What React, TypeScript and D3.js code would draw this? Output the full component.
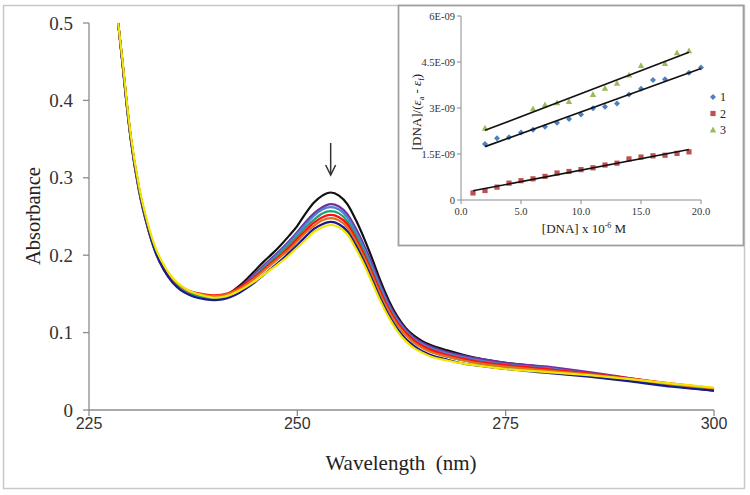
import React from "react";
import * as d3 from "d3";

const wavelengths = [228.5,229,229.5,230,231,232,233,234,235,236,237,238,239,240,241,242,243,244,245,246,247,248,249,250,251,252,253,254,255,256,257,258,259,260,261,262,263,264,265,266,268,270,272,275,280,285,290,295,300];

const black = [0.500,0.449,0.396,0.350,0.283,0.237,0.203,0.181,0.167,0.158,0.152,0.148,0.146,0.145,0.147,0.152,0.160,0.170,0.181,0.192,0.202,0.213,0.225,0.238,0.254,0.268,0.277,0.281,0.277,0.266,0.246,0.222,0.195,0.166,0.141,0.121,0.106,0.096,0.089,0.084,0.077,0.071,0.066,0.061,0.055,0.047,0.039,0.031,0.025];
const purple = [0.500,0.450,0.398,0.352,0.285,0.239,0.205,0.183,0.168,0.159,0.153,0.149,0.147,0.146,0.147,0.151,0.158,0.167,0.177,0.187,0.197,0.207,0.218,0.230,0.243,0.254,0.262,0.266,0.263,0.253,0.235,0.213,0.188,0.161,0.137,0.118,0.104,0.094,0.087,0.082,0.075,0.070,0.066,0.061,0.056,0.049,0.041,0.033,0.026];
const blue = [0.500,0.450,0.397,0.351,0.284,0.238,0.203,0.181,0.166,0.156,0.150,0.146,0.144,0.143,0.145,0.149,0.156,0.165,0.175,0.185,0.195,0.205,0.216,0.228,0.240,0.251,0.259,0.262,0.259,0.249,0.231,0.209,0.184,0.158,0.134,0.116,0.102,0.092,0.085,0.080,0.073,0.068,0.064,0.059,0.054,0.047,0.040,0.032,0.026];
const green = [0.500,0.451,0.398,0.352,0.285,0.239,0.205,0.183,0.168,0.158,0.152,0.148,0.146,0.145,0.146,0.150,0.156,0.164,0.173,0.183,0.193,0.203,0.213,0.224,0.236,0.246,0.254,0.257,0.254,0.244,0.226,0.204,0.179,0.153,0.130,0.112,0.098,0.088,0.081,0.076,0.069,0.064,0.060,0.056,0.051,0.046,0.039,0.032,0.027];
const red = [0.500,0.452,0.399,0.353,0.286,0.240,0.206,0.185,0.170,0.160,0.154,0.151,0.149,0.148,0.149,0.152,0.158,0.165,0.173,0.182,0.191,0.200,0.210,0.221,0.232,0.242,0.249,0.252,0.249,0.240,0.222,0.201,0.177,0.152,0.130,0.113,0.100,0.090,0.083,0.078,0.071,0.066,0.062,0.058,0.053,0.047,0.041,0.034,0.028];
const orange = [0.500,0.452,0.400,0.354,0.287,0.241,0.207,0.185,0.170,0.160,0.153,0.150,0.148,0.147,0.148,0.151,0.156,0.163,0.171,0.180,0.189,0.198,0.207,0.218,0.229,0.238,0.245,0.248,0.245,0.236,0.218,0.197,0.173,0.148,0.127,0.110,0.097,0.087,0.080,0.075,0.069,0.064,0.060,0.056,0.051,0.046,0.040,0.033,0.028];
const navy = [0.500,0.451,0.399,0.353,0.286,0.239,0.204,0.181,0.165,0.155,0.149,0.145,0.143,0.142,0.143,0.146,0.151,0.158,0.166,0.175,0.184,0.193,0.203,0.213,0.224,0.234,0.240,0.243,0.240,0.231,0.213,0.192,0.168,0.143,0.122,0.105,0.092,0.083,0.076,0.071,0.065,0.060,0.057,0.053,0.048,0.043,0.037,0.030,0.025];
const yellow = [0.500,0.454,0.402,0.356,0.289,0.243,0.209,0.187,0.171,0.161,0.154,0.150,0.147,0.145,0.146,0.149,0.154,0.160,0.167,0.175,0.183,0.191,0.200,0.210,0.220,0.230,0.236,0.239,0.236,0.227,0.209,0.188,0.164,0.140,0.119,0.102,0.089,0.080,0.074,0.069,0.064,0.060,0.057,0.053,0.049,0.045,0.040,0.034,0.029];

const spectra = [black, purple, blue, green, red, orange, navy, yellow];
const spectraColors = ["#111111", "#7030A0", "#4F7FD0", "#1FA077", "#FF1010", "#E07020", "#1A1A8C", "#F2E600"];

const mainXTicks = [225, 250, 275, 300];
const mainYTicks = [0, 0.1, 0.2, 0.3, 0.4, 0.5];

// inset: values in units of 1E-09
const s1X = [2,3,4,5,6,7,8,9,10,11,12,13,14,15,16,17,19,20];
const s1Y = [1.83,2.01,2.05,2.20,2.29,2.39,2.52,2.64,2.79,2.99,3.04,3.15,3.44,3.63,3.91,3.94,4.15,4.32];
const s2X = [1,2,3,4,5,6,7,8,9,10,11,12,13,14,15,16,17,18,19];
const s2Y = [0.23,0.31,0.42,0.55,0.63,0.69,0.77,0.88,0.93,0.99,1.05,1.14,1.20,1.34,1.40,1.44,1.46,1.52,1.57];
const s3X = [2,6,7,8,9,11,12,13,14,15,17,18,19];
const s3Y = [2.34,2.97,3.10,3.17,3.21,3.44,3.64,3.80,4.07,4.38,4.45,4.80,4.86];
const insetSeriesNames = ["1", "2", "3"];
const insetColors = ["#4F81BD", "#C0504D", "#9BBB59"];
const insetXTicks = [0, 5, 10, 15, 20];
const insetYTicks = [0, 1.5, 3, 4.5, 6];
const insetYTickLabels = ["0", "1.5E-09", "3E-09", "4.5E-09", "6E-09"];

function regress(xs: number[], ys: number[]) {
  const mx = d3.mean(xs)!;
  const my = d3.mean(ys)!;
  let num = 0, den = 0;
  xs.forEach((x, i) => { num += (x - mx) * (ys[i] - my); den += (x - mx) * (x - mx); });
  const b = num / den;
  return { a: my - b * mx, b };
}

export default function App() {
  const x = d3.scaleLinear().domain([225, 300]).range([89, 714]);
  const y = d3.scaleLinear().domain([0, 0.5]).range([410, 23]);
  const line = d3.line<number>()
    .x((_, i) => x(wavelengths[i]))
    .y((d) => y(d))
    .curve(d3.curveMonotoneX);

  const ix = d3.scaleLinear().domain([0, 20]).range([461, 701]);
  const iy = d3.scaleLinear().domain([0, 6]).range([200, 16]);

  const insetSeries = [
    { xs: s1X, ys: s1Y },
    { xs: s2X, ys: s2Y },
    { xs: s3X, ys: s3Y },
  ];

  const serif = "'Liberation Serif', 'Times New Roman', serif";
  const sans = "'Liberation Sans', Arial, sans-serif";
  const axisCol = "#8c8c8c";

  const marker = (k: number, cx: number, cy: number, key: string) => {
    const c = insetColors[k];
    if (k === 0) {
      const s = 3;
      return <path key={key} d={`M${cx},${cy - s}L${cx + s},${cy}L${cx},${cy + s}L${cx - s},${cy}Z`} fill={c} />;
    }
    if (k === 1) {
      return <rect key={key} x={cx - 2.6} y={cy - 2.6} width={5.2} height={5.2} fill={c} />;
    }
    return <path key={key} d={`M${cx},${cy - 3.4}L${cx + 3.2},${cy + 2.4}L${cx - 3.2},${cy + 2.4}Z`} fill={c} />;
  };

  const arrowX = x(254);

  return (
    <svg width={750} height={495} style={{ position: "absolute", left: 0, top: 0, background: "#fff" }}>
      <rect x={0} y={0} width={750} height={495} fill="#fff" />
      <rect x={3.5} y={5.5} width={741} height={483} fill="none" stroke="#c8c8c8" strokeWidth={1.5} />

      {/* main axes */}
      <line x1={89} x2={89} y1={y(0.5)} y2={y(0)} stroke={axisCol} strokeWidth={1.3} />
      <line x1={89} x2={714} y1={y(0)} y2={y(0)} stroke={axisCol} strokeWidth={1.3} />
      {mainYTicks.map((t) => (
        <g key={"yt" + t}>
          <line x1={83} x2={89} y1={y(t)} y2={y(t)} stroke={axisCol} strokeWidth={1.3} />
          <text x={73} y={y(t)} dy="0.35em" textAnchor="end" fontFamily={serif} fontSize={19} fill="#333">
            {t === 0 ? "0" : t.toFixed(1)}
          </text>
        </g>
      ))}
      {mainXTicks.map((t) => (
        <g key={"xt" + t}>
          <line x1={x(t)} x2={x(t)} y1={410} y2={416} stroke={axisCol} strokeWidth={1.3} />
          <text x={x(t)} y={429} textAnchor="middle" fontFamily={sans} fontSize={16} fill="#333">{t}</text>
        </g>
      ))}
      <text transform="translate(40,216) rotate(-90)" textAnchor="middle" fontFamily={serif} fontSize={20.5} fill="#222">Absorbance</text>
      <text x={401} y={470} textAnchor="middle" fontFamily={serif} fontSize={21} fill="#222" style={{ whiteSpace: "pre" }}>{"Wavelength  (nm)"}</text>

      {/* spectra */}
      {spectra.map((s, i) => (
        <path key={"sp" + i} d={line(s) || ""} fill="none" stroke={spectraColors[i]} strokeWidth={2.2} strokeLinejoin="round" />
      ))}

      {/* arrow */}
      <line x1={arrowX} x2={arrowX} y1={143} y2={175} stroke="#333" strokeWidth={1.5} />
      <path d={`M${arrowX - 5},${165}L${arrowX},${175}L${arrowX + 5},${165}`} fill="none" stroke="#333" strokeWidth={1.5} />

      {/* inset */}
      <rect x={398.5} y={5.5} width={345} height={240} fill="#fff" stroke="#a0a0a0" strokeWidth={1.8} />
      <line x1={ix(0)} x2={ix(0)} y1={iy(6)} y2={iy(0)} stroke={axisCol} strokeWidth={1} />
      <line x1={ix(0)} x2={ix(20)} y1={iy(0)} y2={iy(0)} stroke={axisCol} strokeWidth={1} />
      {insetYTicks.map((t, i) => (
        <g key={"iyt" + t}>
          <line x1={ix(0) - 4} x2={ix(0)} y1={iy(t)} y2={iy(t)} stroke={axisCol} strokeWidth={1} />
          <text x={ix(0) - 6} y={iy(t)} dy="0.35em" textAnchor="end" fontFamily={serif} fontSize={10.5} fill="#333">{insetYTickLabels[i]}</text>
        </g>
      ))}
      {insetXTicks.map((t) => (
        <g key={"ixt" + t}>
          <line x1={ix(t)} x2={ix(t)} y1={iy(0)} y2={iy(0) + 4} stroke={axisCol} strokeWidth={1} />
          <text x={ix(t)} y={iy(0) + 15} textAnchor="middle" fontFamily={serif} fontSize={10.5} fill="#333">{t.toFixed(1)}</text>
        </g>
      ))}
      <text x={584} y={233} textAnchor="middle" fontFamily={serif} fontSize={13} fill="#222">
        [DNA] x 10<tspan dy={-5} fontSize={8}>-6</tspan><tspan dy={5}> M</tspan>
      </text>
      <text transform="translate(421,112) rotate(-90)" textAnchor="middle" fontFamily={serif} fontSize={13} fill="#222">
        [DNA]/(<tspan fontStyle="italic">ε</tspan><tspan dy={3} fontSize={8}>a</tspan><tspan dy={-3}> - </tspan><tspan fontStyle="italic">ε</tspan><tspan dy={3} fontSize={8}>f</tspan><tspan dy={-3}>)</tspan>
      </text>

      {insetSeries.map((s, k) => {
        const r = regress(s.xs, s.ys);
        const x0 = d3.min(s.xs)!, x1 = d3.max(s.xs)!;
        return (
          <g key={"is" + k}>
            {s.xs.map((xv, j) => marker(k, ix(xv), iy(s.ys[j]), `m${k}-${j}`))}
            <line x1={ix(x0)} y1={iy(r.a + r.b * x0)} x2={ix(x1)} y2={iy(r.a + r.b * x1)} stroke="#111" strokeWidth={1.6} />
          </g>
        );
      })}

      {insetSeriesNames.map((n, k) => (
        <g key={"lg" + k}>
          {marker(k, 713, 97 + k * 16.5, "lm" + k)}
          <text x={720} y={97 + k * 16.5} dy="0.35em" fontFamily={serif} fontSize={12} fill="#222">{n}</text>
        </g>
      ))}
    </svg>
  );
}
